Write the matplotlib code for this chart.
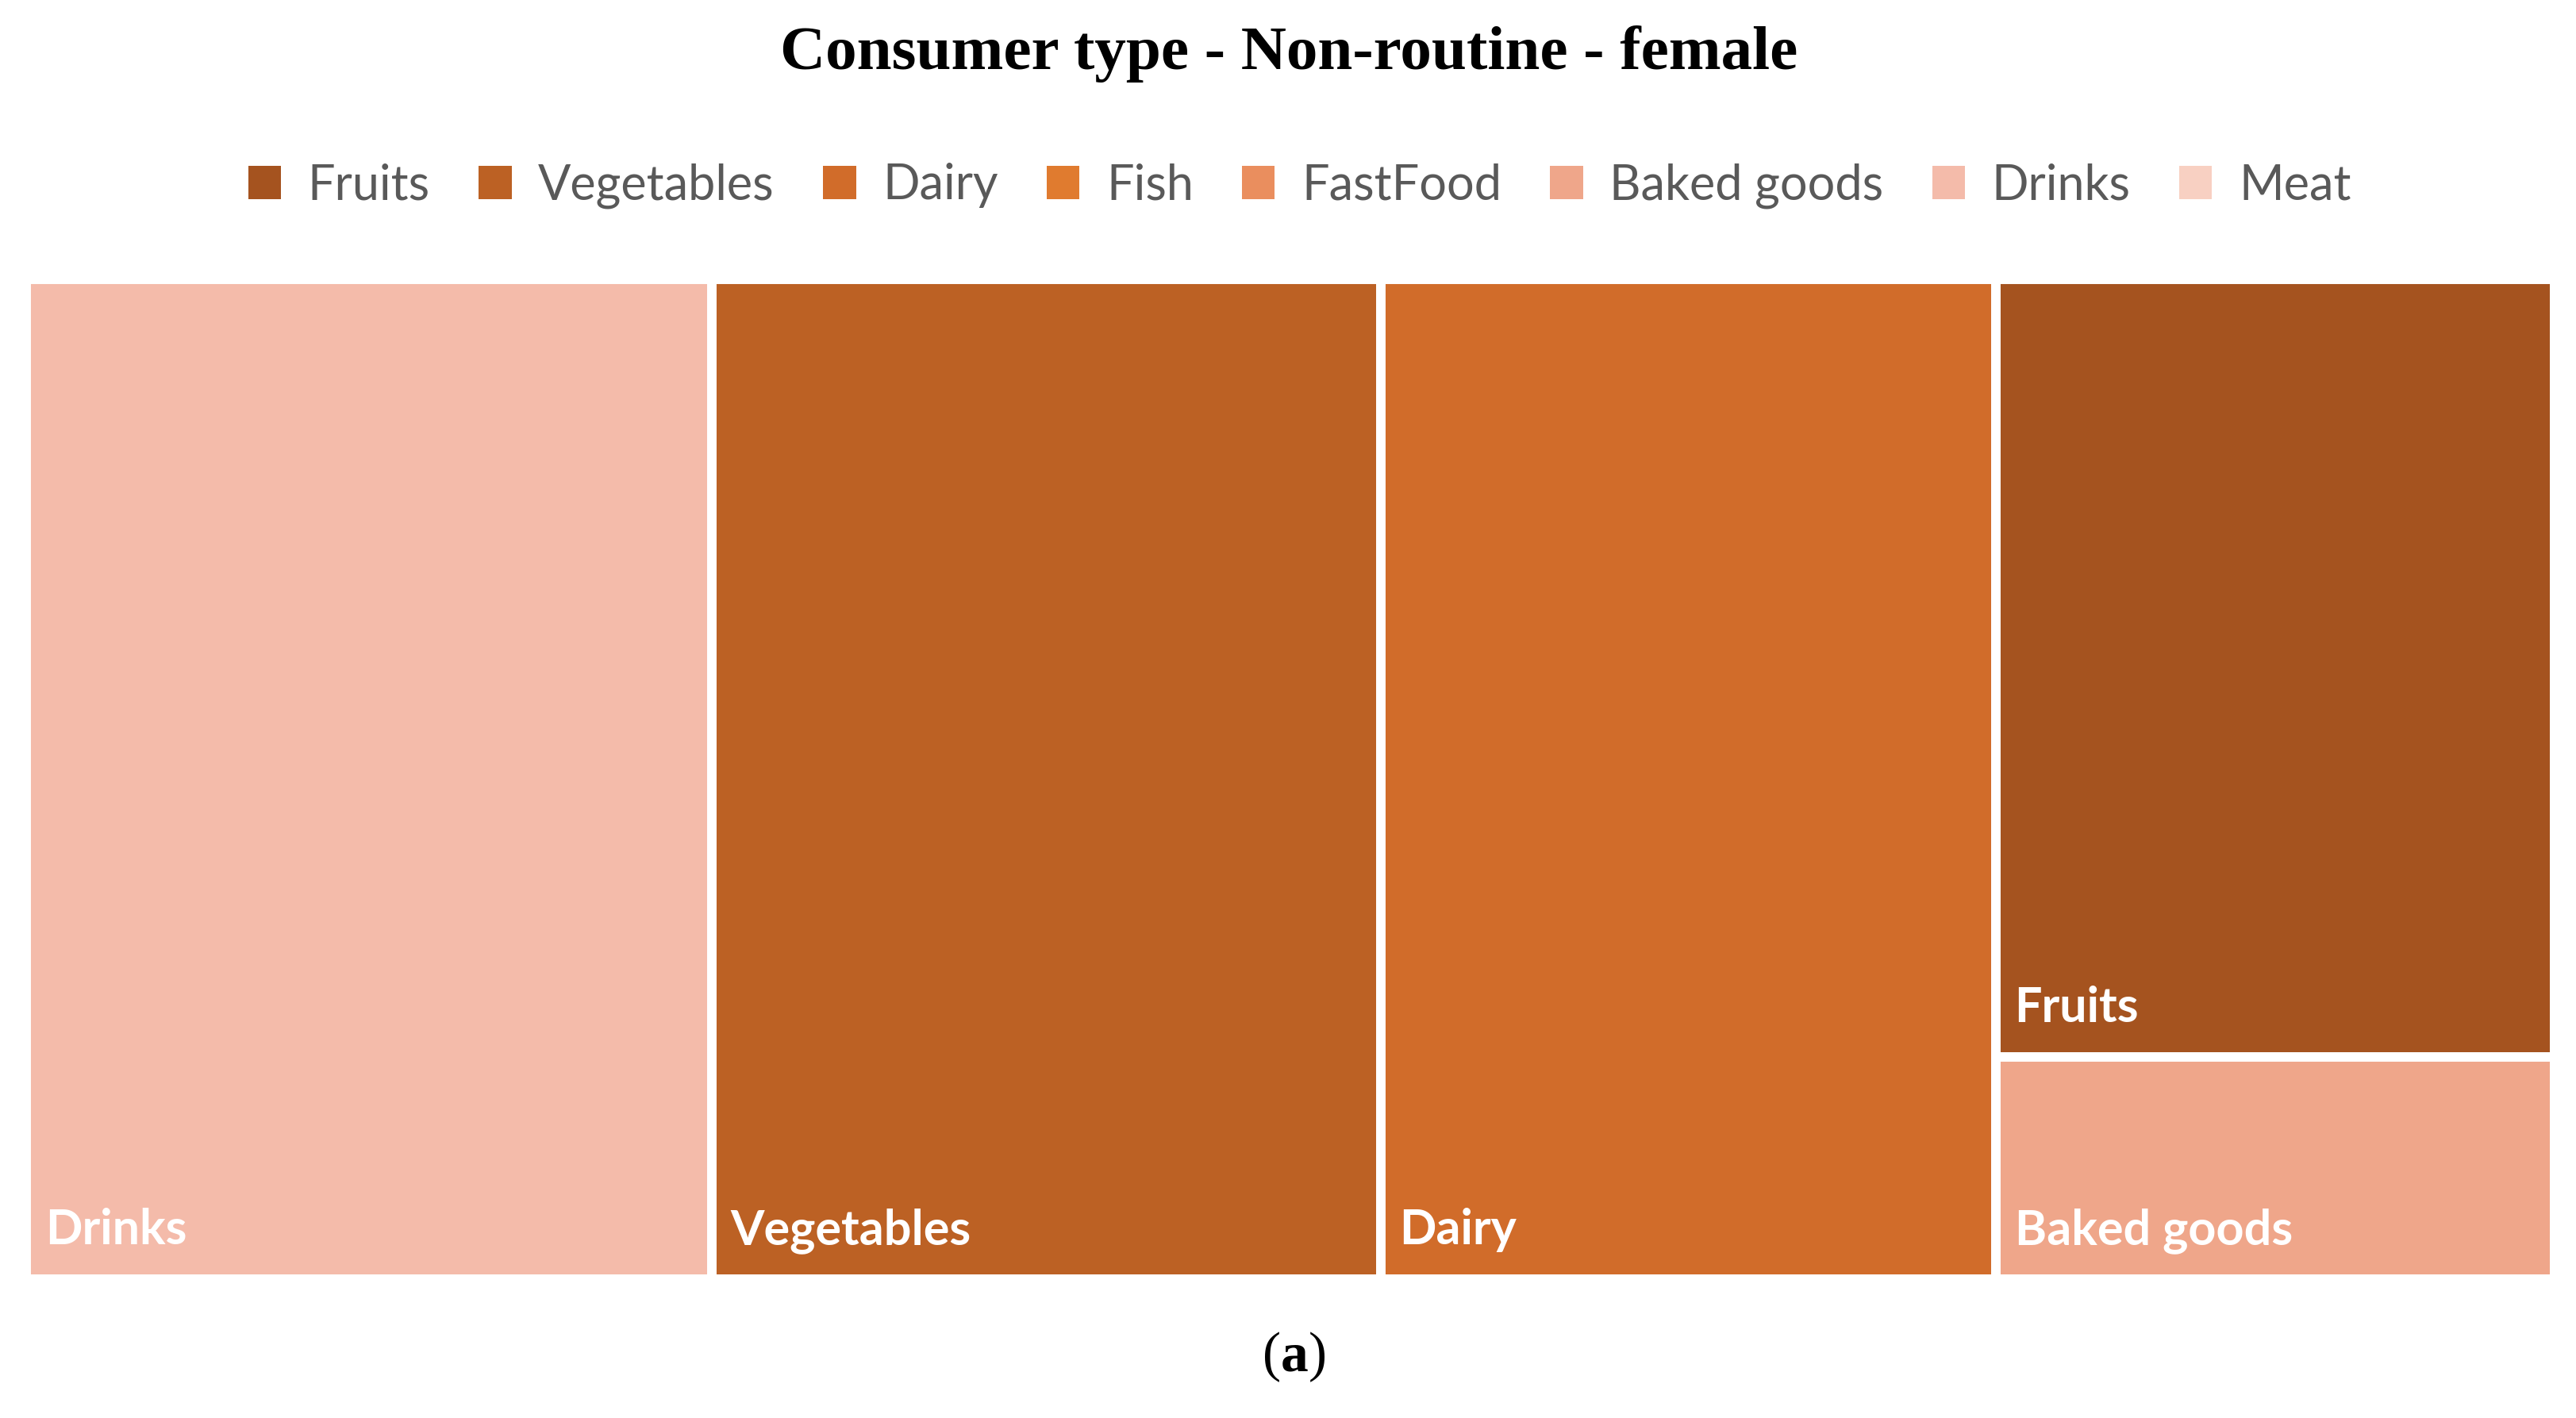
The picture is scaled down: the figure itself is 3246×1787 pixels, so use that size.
import matplotlib.pyplot as plt
from matplotlib.patches import Rectangle, Patch

# legend entries (all categories) and their colours
legend_names = ["Fruits", "Vegetables", "Dairy", "Fish", "FastFood", "Baked goods", "Drinks", "Meat"]
legend_colors = ["#A5531F", "#BC6124", "#D16C2A", "#E07B2F", "#EA8E5E", "#EFA68A", "#F4BBAA", "#F8D0C2"]

# categories present in the treemap with their (estimated) values
categories = ["Drinks", "Vegetables", "Dairy", "Fruits", "Baked goods"]
values = [33.1, 32.3, 29.7, 21, 6]

color_of = dict(zip(legend_names, legend_colors))


def worst(row, w):
    s = sum(row)
    return max(max(w * w * r / (s * s), (s * s) / (w * w * r)) for r in row)


def layout_row(row, x, y, dx, dy):
    # lay a row of areas along the shorter side, return rects and leftover space
    s = sum(row)
    rects = []
    if dx >= dy:
        width = s / dy
        yy = y + dy
        for r in row:
            h = r / width
            yy -= h
            rects.append((x, yy, width, h))
        return rects, (x + width, y, dx - width, dy)
    height = s / dx
    xx = x
    for r in row:
        w = r / height
        rects.append((xx, y + dy - height, w, height))
        xx += w
    return rects, (x, y, dx, dy - height)


def squarify(sizes, x, y, dx, dy):
    total = sum(sizes)
    areas = [v * dx * dy / total for v in sizes]
    rects = []
    row = []
    i = 0
    while i < len(areas):
        side = min(dx, dy)
        a = areas[i]
        if not row or worst(row + [a], side) <= worst(row, side):
            row.append(a)
            i += 1
        else:
            r, (x, y, dx, dy) = layout_row(row, x, y, dx, dy)
            rects += r
            row = []
    if row:
        r, _ = layout_row(row, x, y, dx, dy)
        rects += r
    return rects


W, H = 3186.0, 1260.0
rects = squarify(values, 0, 0, W, H)

fig = plt.figure(figsize=(32.46, 17.87), dpi=100)
ax = fig.add_axes([0.0102, 0.0979, 0.9815, 0.7051])
ax.set_xlim(0, W)
ax.set_ylim(0, H)
ax.axis("off")

for name, (rx, ry, rw, rh) in zip(categories, rects):
    ax.add_patch(Rectangle((rx, ry), rw, rh, facecolor=color_of[name],
                           edgecolor="white", linewidth=8.6))
    ax.text(rx + 24, ry + 44, name, color="white", fontsize=44,
            fontweight="bold", family="Lato", ha="left", va="baseline")

fig.text(0.5003, 0.962, "Consumer type - Non-routine - female", ha="center", va="center",
         fontsize=57, fontweight="bold", family="Liberation Serif")

handles = [Patch(facecolor=c, edgecolor="none") for c in legend_colors]
fig.legend(handles, legend_names, loc="center", bbox_to_anchor=(0.5045, 0.869), ncol=8,
           frameon=False, prop={"family": "Lato", "size": 44}, labelcolor="#595959",
           handlelength=0.68, handleheight=0.68, handletextpad=0.55, columnspacing=1.0)

# "(a)" with a bold letter between plain parentheses
t1 = fig.text(0.4985, 0.043, "(", ha="left", va="center", fontsize=50, family="Liberation Serif")
t2 = fig.text(0, 0, "a", fontsize=50, fontweight="bold", family="Liberation Serif",
              ha="left", va="baseline")
fig.canvas.draw()
r = fig.canvas.get_renderer()
b1 = t1.get_window_extent(r)
t2.set_transform(None)
t2.set_position((b1.x1, b1.y0 + 0.22 * b1.height))
b2 = t2.get_window_extent(r)
t3 = fig.text(0, 0, ")", fontsize=50, family="Liberation Serif", ha="left", va="bottom",
              transform=None)
t3.set_position((b2.x1, b1.y0))

# shift the group so it is centred under the chart
fig.canvas.draw()
b3 = t3.get_window_extent(r)
shift = fig.bbox.width * 0.5025 - (b1.x0 + b3.x1) / 2
t1.set_transform(None)
t1.set_position((b1.x0 + shift, b1.y0))
t1.set_va("bottom")
t2.set_position((b1.x1 + shift, b1.y0 + 0.22 * b1.height))
t3.set_position((b2.x1 + shift, b1.y0))

fig.savefig("out.png", dpi=100)
